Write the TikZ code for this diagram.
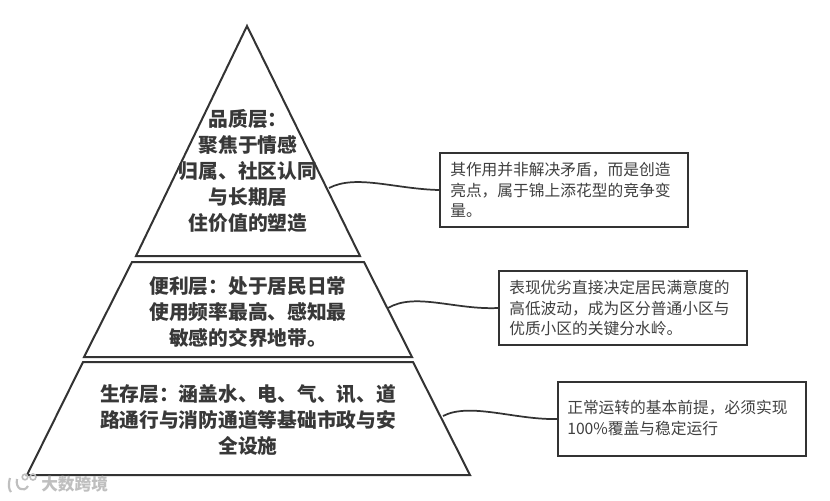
\documentclass[tikz,border=0pt]{standalone}
\usepackage{fontspec}
\setmainfont{Noto Sans CJK SC}
\setlength{\lineskiplimit}{-30pt}
\begin{document}
\begin{tikzpicture}[x=0.75pt,y=-0.75pt,
  inkc/.style={draw=black!80,line width=1.5pt,line join=miter},
  layer/.style={inkc,fill=white},
  lab/.style={align=center,text=black!78,font=\fontsize{14.8pt}{19.6pt}\selectfont\bfseries,inner sep=0pt},
  note/.style={inkc,fill=white,minimum width=186pt,minimum height=55.5pt,inner sep=0pt},
  notetext/.style={align=left,anchor=west,text=black!75,inner sep=0pt,font=\fontsize{11.8pt}{15.4pt}\selectfont},
  link/.style={draw=black!80,line width=1.3pt}]
\useasboundingbox (0,0) rectangle (830,500);
\fill[white] (0,0) rectangle (830,500);
% pyramid layers
\draw[layer] (247,26) -- (360,256) -- (136,256) -- cycle;
\draw[layer] (132,262) -- (364,262) -- (412,357) -- (84,357) -- cycle;
\draw[layer] (83,362) -- (413,362) -- (470,475) -- (27,475) -- cycle;
\coordinate (c1) at (329,188);
\coordinate (c2) at (388,308);
\coordinate (c3) at (443,416);
% labels
\node[lab] (l1) at (248,171) {品质层：\\聚焦于情感\\归属、社区认同\\与长期居\\住价值的塑造};
\node[lab] (l2) at (248,312) {便利层：处于居民日常\\使用频率最高、感知最\\敏感的交界地带。};
\node[lab] (l3) at (248,420) {生存层：涵盖水、电、气、讯、道\\路通行与消防通道等基础市政与安\\全设施};
% notes
\node[note,anchor=north west] (n1) at (439,152) {};
\node[note,anchor=north west] (n2) at (498,270) {};
\node[note,anchor=north west] (n3) at (557,381) {};
\node[notetext] (t1) at (450,190) {其作用并非解决矛盾，而是创造\\亮点，属于锦上添花型的竞争变\\量。};
\node[notetext] (t2) at (509,308) {表现优劣直接决定居民满意度的\\高低波动，成为区分普通小区与\\优质小区的关键分水岭。};
\node[notetext] (t3) at (567,418) {正常运转的基本前提，必须实现\\100\%覆盖与稳定运行};
% connectors
\draw[link] (c1) .. controls (356,174) and (395,189) .. (n1.west);
\draw[link] (c2) .. controls (415,292) and (455,310) .. (n2.west);
\draw[link] (c3) .. controls (470,402) and (515,420) .. (n3.west);
% watermark
\draw[black!25,line width=1.6pt] (10,478) .. controls (8,485) and (9,490) .. (11,492);
\draw[black!25,line width=1.6pt] (17,479) .. controls (15,489) and (24,493) .. (28,486);
\draw[black!25,line width=1.2pt] (25,477) circle (2.8) (33,477) circle (3);
\node[anchor=west,text=black!25,inner sep=0pt,font=\fontsize{12.5pt}{14pt}\selectfont\bfseries] (wm) at (41,484.5) {大数跨境};
\end{tikzpicture}
\end{document}
